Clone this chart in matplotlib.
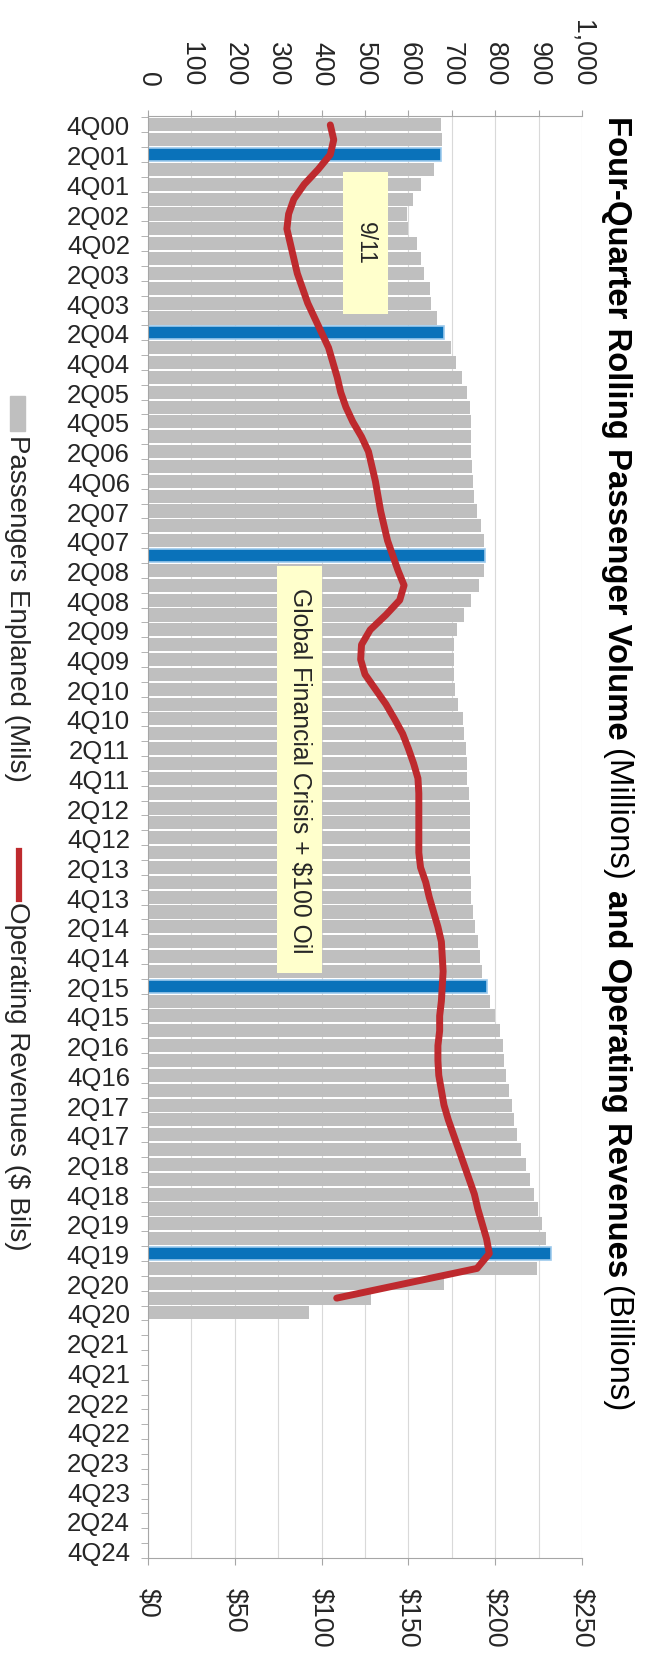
import matplotlib
matplotlib.use('Agg')
import matplotlib.pyplot as plt
from matplotlib.patches import Rectangle
from matplotlib.lines import Line2D
from matplotlib.ticker import FuncFormatter

plt.rcParams['font.family'] = ['Liberation Sans', 'DejaVu Sans']

# quarters 4Q00 .. 4Q24, one bar slot per quarter
quarters = [f'{q}Q{y:02d}' for y in range(0, 25) for q in (1, 2, 3, 4)][3:]
tick_quarters = quarters[::2]
highlight = ['2Q01', '2Q04', '1Q08', '2Q15', '4Q19']

# four-quarter rolling passengers enplaned (millions), 4Q00 .. 4Q20
passengers = [675, 677, 675, 658, 628, 611, 596, 598, 620, 630,
              636, 649, 653, 665, 682, 698, 710, 723, 734, 741,
              744, 745, 745, 746, 748, 751, 758, 767, 774, 777,
              774, 763, 745, 727, 712, 706, 706, 706, 708, 715,
              725, 729, 732, 734, 736, 739, 741, 741, 741, 741,
              742, 744, 745, 748, 753, 760, 765, 770, 780, 789,
              799, 810, 818, 821, 825, 831, 839, 843, 850, 859,
              870, 881, 889, 898, 907, 917, 929, 897, 682, 513,
              371]

# four-quarter rolling operating revenues ($ billions), 4Q00 .. 3Q20
revenues = [105, 107, 105, 98, 90, 84, 81, 80, 82, 84,
            86, 89, 92, 96, 100, 104, 106.5, 109, 111, 114,
            118, 123, 127, 129, 131, 132.5, 134, 136, 138, 141,
            144, 147.5, 145, 137, 128, 123, 122.5, 125, 131, 137,
            142, 146.7, 150, 153, 155.5, 156, 156, 156, 156, 156,
            157, 160, 162, 164.5, 167, 169, 169.5, 170, 169.5, 169,
            168, 168, 167, 167, 167.5, 169, 170.5, 173, 176, 179,
            182, 185, 188, 190, 192.5, 195, 196.6, 189.5, 149, 108.7]

pass_ticks = list(range(0, 1001, 100))
rev_ticks = list(range(0, 251, 50))

grey = '#BFBFBF'
blue = '#0A72BA'
red = '#BE2A2E'
spine_c = '#A6A6A6'
txt_c = '#262626'

W, H = 649, 1665
fig = plt.figure(figsize=(W / 100, H / 100), dpi=100)
ax = fig.add_axes([148 / W, 1 - 1559 / H, 434 / W, (1559 - 117) / H])
ax2 = ax.twiny()

# bars
idx = list(range(len(passengers)))
is_hl = [quarters[i] in highlight for i in idx]
ax.barh(idx, passengers, height=0.88,
        color=[blue if h else grey for h in is_hl],
        edgecolor=['#9CC9EC' if h else grey for h in is_hl],
        linewidth=[1.2 if h else 0 for h in is_hl], zorder=2)

ax.set_xlim(0, 1000)
ax.set_ylim(96.4, -0.6)
ax.xaxis.tick_top()
ax.set_xticks(pass_ticks)
ax.xaxis.set_major_formatter(FuncFormatter(lambda v, p: f'{v:,.0f}'))
ax.tick_params(axis='x', direction='out', length=4, color=spine_c,
               labelrotation=-90, pad=18, labelsize=19.3, labelcolor=txt_c)
ax.set_yticks(range(0, 97, 2))
ax.set_yticklabels(tick_quarters)
ax.set_yticks([i + 0.5 for i in range(-1, 97)], minor=True)
ax.tick_params(axis='y', which='major', length=0, pad=13,
               labelsize=18.5, labelcolor=txt_c)
ax.tick_params(axis='y', which='minor', length=5, color=spine_c)
ax.grid(axis='x', color='#D9D9D9', lw=0.8)
ax.set_axisbelow(True)
ax.spines['right'].set_visible(False)
for s in ('top', 'left', 'bottom'):
    ax.spines[s].set_color(spine_c)

# annotation boxes
ax.add_patch(Rectangle((450, 3.2), 102, 9.5, facecolor='#FFFFCC',
                       edgecolor='none', zorder=3))
ax.text(501, 7.9, '9/11', rotation=-90, ha='center', va='center',
        fontsize=16.5, color=txt_c, zorder=4)
ax.add_patch(Rectangle((298, 29.7), 104, 27.4, facecolor='#FFFFCC',
                       edgecolor='none', zorder=3))
ax.text(350, 43.45, 'Global Financial Crisis + $100 Oil', rotation=-90,
        ha='center', va='center', fontsize=17.8, color=txt_c, zorder=4)

# revenue line on the second scale
ax2.plot(revenues, list(range(len(revenues))), color=red, lw=5,
         solid_capstyle='round', solid_joinstyle='round')
ax2.set_xlim(0, 250)
ax2.xaxis.tick_bottom()
ax2.set_xticks(rev_ticks)
ax2.xaxis.set_major_formatter(FuncFormatter(lambda v, p: f'${v:.0f}'))
ax2.tick_params(axis='x', direction='out', length=5, color=spine_c,
                labelrotation=-90, pad=16, labelsize=19.4, labelcolor=txt_c)
for s in ax2.spines.values():
    s.set_visible(False)

# legend, drawn by hand (rotated)
fig.add_artist(Rectangle((10 / W, 1 - 432 / H), 15 / W, 35 / H,
                         transform=fig.transFigure, color=grey))
fig.text(10 / W, 1 - 435 / H, 'Passengers Enplaned (Mils)', rotation=-90,
         rotation_mode='anchor', ha='left', va='baseline', fontsize=20,
         color=txt_c)
fig.add_artist(Line2D([18.5 / W, 18.5 / W], [1 - 852 / H, 1 - 900 / H],
                      transform=fig.transFigure, color=red, lw=4.5))
fig.text(10 / W, 1 - 902 / H, 'Operating Revenues ($ Bils)', rotation=-90,
         rotation_mode='anchor', ha='left', va='baseline', fontsize=20,
         color=txt_c)

# title, mixed bold / normal, running downward
renderer = fig.canvas.get_renderer()
pieces = [('Four-Quarter Rolling Passenger Volume', 'bold'),
          ('(Millions)', 'normal'),
          ('and Operating Revenues', 'bold'),
          ('(Billions)', 'normal')]
ty = 116
gap = 23.7 * 0.278 * 100 / 72
for s, w in pieces:
    t = fig.text(608 / W, 1 - ty / H, s, rotation=-90, rotation_mode='anchor',
                 ha='left', va='baseline', fontsize=23.7, fontweight=w,
                 color='black')
    ty += t.get_window_extent(renderer).height + gap

fig.savefig('out.png', dpi=100)
